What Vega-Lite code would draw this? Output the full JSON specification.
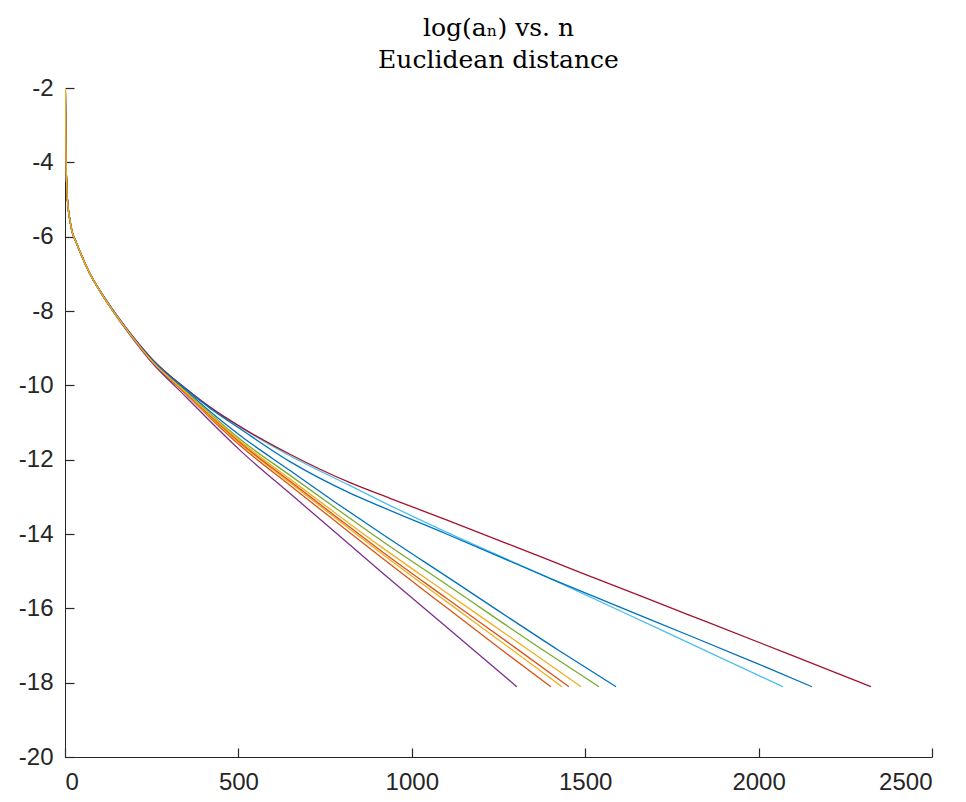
{
  "$schema": "https://vega.github.io/schema/vega-lite/v6.json",
  "autosize": "none",
  "width": 867,
  "height": 669,
  "padding": {"left": 65, "top": 88, "right": 34, "bottom": 45},
  "background": "white",
  "title": {
    "text": "log(aₙ) vs. n",
    "subtitle": "Euclidean distance",
    "font": "DejaVu Serif",
    "fontSize": 25,
    "fontWeight": "normal",
    "color": "black",
    "subtitleFont": "DejaVu Serif",
    "subtitleFontSize": 25,
    "subtitleColor": "black",
    "subtitlePadding": 7,
    "anchor": "middle",
    "frame": "group",
    "offset": 3
  },
  "config": {
    "view": {"stroke": null},
    "axis": {
      "grid": false,
      "domainColor": "#262626",
      "domainWidth": 1,
      "tickColor": "#262626",
      "tickWidth": 1.2,
      "tickSize": -9,
      "labelFont": "Liberation Sans",
      "labelFontSize": 24,
      "labelColor": "#262626",
      "title": null
    }
  },
  "datasets": {
    "pts": [
      {"s":"s01","n":1,"y":-2.0},{"s":"s01","n":2,"y":-3.1},{"s":"s01","n":3,"y":-3.9},{"s":"s01","n":4,"y":-4.35},{"s":"s01","n":5,"y":-4.65},{"s":"s01","n":7,"y":-5.0},{"s":"s01","n":10,"y":-5.3},{"s":"s01","n":15,"y":-5.6},{"s":"s01","n":20,"y":-5.85},{"s":"s01","n":30,"y":-6.1},{"s":"s01","n":43,"y":-6.4},{"s":"s01","n":72,"y":-7.0},{"s":"s01","n":100,"y":-7.45},{"s":"s01","n":154,"y":-8.2},{"s":"s01","n":200,"y":-8.76},
      {"s":"s01","n":250,"y":-9.32},{"s":"s01","n":350,"y":-10.15},{"s":"s01","n":420,"y":-10.72},{"s":"s01","n":505,"y":-11.35},{"s":"s01","n":650,"y":-12.3},{"s":"s01","n":780,"y":-13.15},{"s":"s01","n":908,"y":-13.96},{"s":"s01","n":1100,"y":-15.14},{"s":"s01","n":1422,"y":-17.12},{"s":"s01","n":1589,"y":-18.11},

      {"s":"s02","n":1,"y":-2.0},{"s":"s02","n":2,"y":-3.1},{"s":"s02","n":3,"y":-3.9},{"s":"s02","n":4,"y":-4.35},{"s":"s02","n":5,"y":-4.65},{"s":"s02","n":7,"y":-5.0},{"s":"s02","n":10,"y":-5.3},{"s":"s02","n":15,"y":-5.6},{"s":"s02","n":20,"y":-5.85},{"s":"s02","n":30,"y":-6.1},{"s":"s02","n":43,"y":-6.4},{"s":"s02","n":72,"y":-7.0},{"s":"s02","n":100,"y":-7.45},{"s":"s02","n":154,"y":-8.2},{"s":"s02","n":200,"y":-8.78},
      {"s":"s02","n":250,"y":-9.36},{"s":"s02","n":350,"y":-10.25},{"s":"s02","n":420,"y":-10.89},{"s":"s02","n":505,"y":-11.62},{"s":"s02","n":650,"y":-12.7},{"s":"s02","n":780,"y":-13.66},{"s":"s02","n":908,"y":-14.6},{"s":"s02","n":1100,"y":-15.98},{"s":"s02","n":1254,"y":-17.08},{"s":"s02","n":1401,"y":-18.11},

      {"s":"s03","n":1,"y":-2.0},{"s":"s03","n":2,"y":-3.1},{"s":"s03","n":3,"y":-3.9},{"s":"s03","n":4,"y":-4.35},{"s":"s03","n":5,"y":-4.65},{"s":"s03","n":7,"y":-5.0},{"s":"s03","n":10,"y":-5.3},{"s":"s03","n":15,"y":-5.6},{"s":"s03","n":20,"y":-5.85},{"s":"s03","n":30,"y":-6.1},{"s":"s03","n":43,"y":-6.4},{"s":"s03","n":72,"y":-7.0},{"s":"s03","n":100,"y":-7.45},{"s":"s03","n":154,"y":-8.2},{"s":"s03","n":200,"y":-8.77},
      {"s":"s03","n":250,"y":-9.35},{"s":"s03","n":350,"y":-10.23},{"s":"s03","n":420,"y":-10.86},{"s":"s03","n":505,"y":-11.57},{"s":"s03","n":650,"y":-12.63},{"s":"s03","n":780,"y":-13.57},{"s":"s03","n":908,"y":-14.49},{"s":"s03","n":1100,"y":-15.82},{"s":"s03","n":1300,"y":-17.19},{"s":"s03","n":1433,"y":-18.11},

      {"s":"s04","n":1,"y":-2.0},{"s":"s04","n":2,"y":-3.1},{"s":"s04","n":3,"y":-3.9},{"s":"s04","n":4,"y":-4.35},{"s":"s04","n":5,"y":-4.65},{"s":"s04","n":7,"y":-5.0},{"s":"s04","n":10,"y":-5.3},{"s":"s04","n":15,"y":-5.6},{"s":"s04","n":20,"y":-5.85},{"s":"s04","n":30,"y":-6.1},{"s":"s04","n":43,"y":-6.4},{"s":"s04","n":72,"y":-7.0},{"s":"s04","n":100,"y":-7.46},{"s":"s04","n":154,"y":-8.22},{"s":"s04","n":200,"y":-8.8},
      {"s":"s04","n":250,"y":-9.38},{"s":"s04","n":350,"y":-10.32},{"s":"s04","n":420,"y":-10.98},{"s":"s04","n":505,"y":-11.75},{"s":"s04","n":650,"y":-12.92},{"s":"s04","n":780,"y":-13.96},{"s":"s04","n":908,"y":-14.99},{"s":"s04","n":1100,"y":-16.5},{"s":"s04","n":1173,"y":-17.08},{"s":"s04","n":1303,"y":-18.11},

      {"s":"s05","n":1,"y":-2.0},{"s":"s05","n":2,"y":-3.1},{"s":"s05","n":3,"y":-3.9},{"s":"s05","n":4,"y":-4.35},{"s":"s05","n":5,"y":-4.65},{"s":"s05","n":7,"y":-5.0},{"s":"s05","n":10,"y":-5.3},{"s":"s05","n":15,"y":-5.6},{"s":"s05","n":20,"y":-5.85},{"s":"s05","n":30,"y":-6.1},{"s":"s05","n":43,"y":-6.4},{"s":"s05","n":72,"y":-7.0},{"s":"s05","n":100,"y":-7.45},{"s":"s05","n":154,"y":-8.2},{"s":"s05","n":200,"y":-8.77},
      {"s":"s05","n":250,"y":-9.33},{"s":"s05","n":350,"y":-10.18},{"s":"s05","n":420,"y":-10.77},{"s":"s05","n":505,"y":-11.45},{"s":"s05","n":650,"y":-12.43},{"s":"s05","n":780,"y":-13.3},{"s":"s05","n":908,"y":-14.15},{"s":"s05","n":1100,"y":-15.36},{"s":"s05","n":1378,"y":-17.12},{"s":"s05","n":1540,"y":-18.11},

      {"s":"s06","n":1,"y":-2.0},{"s":"s06","n":2,"y":-3.1},{"s":"s06","n":3,"y":-3.9},{"s":"s06","n":4,"y":-4.35},{"s":"s06","n":5,"y":-4.65},{"s":"s06","n":7,"y":-5.0},{"s":"s06","n":10,"y":-5.3},{"s":"s06","n":15,"y":-5.6},{"s":"s06","n":20,"y":-5.85},{"s":"s06","n":30,"y":-6.1},{"s":"s06","n":43,"y":-6.4},{"s":"s06","n":72,"y":-7.0},{"s":"s06","n":100,"y":-7.44},{"s":"s06","n":154,"y":-8.18},{"s":"s06","n":200,"y":-8.74},
      {"s":"s06","n":250,"y":-9.29},{"s":"s06","n":350,"y":-10.1},{"s":"s06","n":420,"y":-10.6},{"s":"s06","n":505,"y":-11.12},{"s":"s06","n":650,"y":-11.9},{"s":"s06","n":822,"y":-12.7},{"s":"s06","n":908,"y":-13.1},{"s":"s06","n":1100,"y":-13.95},{"s":"s06","n":1400,"y":-15.2},{"s":"s06","n":1700,"y":-16.5},{"s":"s06","n":2070,"y":-18.11},

      {"s":"s07","n":1,"y":-2.0},{"s":"s07","n":2,"y":-3.1},{"s":"s07","n":3,"y":-3.9},{"s":"s07","n":4,"y":-4.35},{"s":"s07","n":5,"y":-4.65},{"s":"s07","n":7,"y":-5.0},{"s":"s07","n":10,"y":-5.3},{"s":"s07","n":15,"y":-5.6},{"s":"s07","n":20,"y":-5.85},{"s":"s07","n":30,"y":-6.1},{"s":"s07","n":43,"y":-6.4},{"s":"s07","n":72,"y":-7.0},{"s":"s07","n":100,"y":-7.44},{"s":"s07","n":154,"y":-8.18},{"s":"s07","n":200,"y":-8.74},
      {"s":"s07","n":250,"y":-9.28},{"s":"s07","n":350,"y":-10.1},{"s":"s07","n":420,"y":-10.6},{"s":"s07","n":505,"y":-11.11},{"s":"s07","n":650,"y":-11.86},{"s":"s07","n":822,"y":-12.62},{"s":"s07","n":937,"y":-13.04},{"s":"s07","n":1100,"y":-13.62},{"s":"s07","n":1292,"y":-14.32},{"s":"s07","n":1485,"y":-15.03},{"s":"s07","n":1800,"y":-16.18},{"s":"s07","n":2100,"y":-17.28},{"s":"s07","n":2324,"y":-18.11},

      {"s":"s08","n":1,"y":-2.0},{"s":"s08","n":2,"y":-3.1},{"s":"s08","n":3,"y":-3.9},{"s":"s08","n":4,"y":-4.35},{"s":"s08","n":5,"y":-4.65},{"s":"s08","n":7,"y":-5.0},{"s":"s08","n":10,"y":-5.3},{"s":"s08","n":15,"y":-5.6},{"s":"s08","n":20,"y":-5.85},{"s":"s08","n":30,"y":-6.1},{"s":"s08","n":43,"y":-6.4},{"s":"s08","n":72,"y":-7.0},{"s":"s08","n":100,"y":-7.44},{"s":"s08","n":154,"y":-8.18},{"s":"s08","n":200,"y":-8.75},
      {"s":"s08","n":250,"y":-9.3},{"s":"s08","n":350,"y":-10.12},{"s":"s08","n":420,"y":-10.63},{"s":"s08","n":505,"y":-11.17},{"s":"s08","n":650,"y":-12.06},{"s":"s08","n":822,"y":-12.9},{"s":"s08","n":908,"y":-13.25},{"s":"s08","n":1100,"y":-14.0},{"s":"s08","n":1400,"y":-15.2},{"s":"s08","n":1700,"y":-16.35},{"s":"s08","n":2000,"y":-17.5},{"s":"s08","n":2154,"y":-18.11},

      {"s":"s09","n":1,"y":-2.0},{"s":"s09","n":2,"y":-3.1},{"s":"s09","n":3,"y":-3.9},{"s":"s09","n":4,"y":-4.35},{"s":"s09","n":5,"y":-4.65},{"s":"s09","n":7,"y":-5.0},{"s":"s09","n":10,"y":-5.3},{"s":"s09","n":15,"y":-5.6},{"s":"s09","n":20,"y":-5.85},{"s":"s09","n":30,"y":-6.1},{"s":"s09","n":43,"y":-6.4},{"s":"s09","n":72,"y":-7.0},{"s":"s09","n":100,"y":-7.45},{"s":"s09","n":154,"y":-8.2},{"s":"s09","n":200,"y":-8.77},
      {"s":"s09","n":250,"y":-9.35},{"s":"s09","n":350,"y":-10.22},{"s":"s09","n":420,"y":-10.83},{"s":"s09","n":505,"y":-11.54},{"s":"s09","n":650,"y":-12.59},{"s":"s09","n":780,"y":-13.52},{"s":"s09","n":908,"y":-14.43},{"s":"s09","n":1100,"y":-15.73},{"s":"s09","n":1300,"y":-17.07},{"s":"s09","n":1453,"y":-18.11},

      {"s":"s10","n":1,"y":-2.0},{"s":"s10","n":2,"y":-3.1},{"s":"s10","n":3,"y":-3.9},{"s":"s10","n":4,"y":-4.35},{"s":"s10","n":5,"y":-4.65},{"s":"s10","n":7,"y":-5.0},{"s":"s10","n":10,"y":-5.3},{"s":"s10","n":15,"y":-5.6},{"s":"s10","n":20,"y":-5.85},{"s":"s10","n":30,"y":-6.1},{"s":"s10","n":43,"y":-6.4},{"s":"s10","n":72,"y":-7.0},{"s":"s10","n":100,"y":-7.45},{"s":"s10","n":154,"y":-8.2},{"s":"s10","n":200,"y":-8.77},
      {"s":"s10","n":250,"y":-9.34},{"s":"s10","n":350,"y":-10.2},{"s":"s10","n":420,"y":-10.8},{"s":"s10","n":505,"y":-11.5},{"s":"s10","n":650,"y":-12.53},{"s":"s10","n":780,"y":-13.44},{"s":"s10","n":908,"y":-14.32},{"s":"s10","n":1100,"y":-15.58},{"s":"s10","n":1300,"y":-16.88},{"s":"s10","n":1488,"y":-18.11}
    ]
  },
  "data": {"name": "pts"},
  "mark": {"type": "line", "strokeWidth": 1.3, "interpolate": "monotone", "clip": true},
  "encoding": {
    "x": {
      "field": "n", "type": "quantitative",
      "scale": {"domain": [0, 2500], "nice": false, "zero": false},
      "axis": {"values": [0, 500, 1000, 1500, 2000, 2500], "labelPadding": 22, "labelExpr": "'' + datum.value"}
    },
    "y": {
      "field": "y", "type": "quantitative",
      "scale": {"domain": [-20, -2], "nice": false, "zero": false},
      "axis": {"values": [-20, -18, -16, -14, -12, -10, -8, -6, -4, -2], "labelPadding": 21, "labelExpr": "'' + datum.value"}
    },
    "color": {
      "field": "s", "type": "nominal",
      "scale": {
        "domain": ["s01","s02","s03","s04","s05","s06","s07","s08","s09","s10"],
        "range": ["#0072BD","#D95319","#EDB120","#7E2F8E","#77AC30","#4DBEEE","#A2142F","#0072BD","#D95319","#EDB120"]
      },
      "legend": null
    },
    "order": {"field": "n", "type": "quantitative"}
  }
}
